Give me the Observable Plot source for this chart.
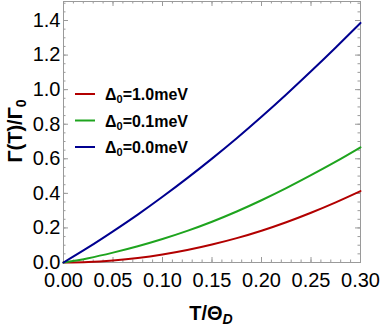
<!DOCTYPE html>
<html><head><meta charset="utf-8">
<script src="https://cdn.jsdelivr.net/npm/d3@7"></script>
<script src="https://cdn.jsdelivr.net/npm/@observablehq/plot@0.6"></script>
<style>
body{margin:0;background:#fff;}
#wrap{position:relative;width:382px;height:327px;font-family:"Liberation Sans",Arial,sans-serif;}
</style></head><body><div id="wrap"></div>
<script>
// Temperature grid T/Θ_D
const T = [0, 0.025, 0.05, 0.075, 0.1, 0.125, 0.15, 0.175, 0.2, 0.225, 0.25, 0.275, 0.3];
// Γ(T)/Γ0 for each gap value
const gap10 = [0, 0.003, 0.012, 0.026, 0.046, 0.072, 0.104, 0.141, 0.184, 0.233, 0.288, 0.348, 0.413];
const gap01 = [0, 0.025, 0.057, 0.094, 0.136, 0.183, 0.236, 0.295, 0.36, 0.43, 0.505, 0.583, 0.666];
const gap00 = [0, 0.087, 0.180, 0.277, 0.380, 0.488, 0.601, 0.719, 0.843, 0.972, 1.106, 1.244, 1.386];
const gapLabels = ["1.0", "0.1", "0.0"];
const seriesColors = ["#b20000", "#1ea41e", "#000090"];
const xTickLabels = [0, 0.05, 0.1, 0.15, 0.2, 0.25, 0.3];
const yTickLabels = [0, 0.2, 0.4, 0.6, 0.8, 1.0, 1.2, 1.4];
const xMinor = d3.range(0, 0.3001, 0.01);
const yMinor = d3.range(0, 1.5001, 0.05);

const series = [gap10, gap01, gap00];
const rows = [];
series.forEach((vals, i) => vals.forEach((v, j) => rows.push({T: T[j], v, s: gapLabels[i]})));

const W = 382, H = 327, mL = 63, mR = 22, mT = 1, mB = 65;
const innerH = H - mT - mB, innerW = W - mL - mR;
const frameColor = "#9a9a9a";
const font = '"Liberation Sans", Arial, sans-serif';

const plot = Plot.plot({
  width: W, height: H,
  marginLeft: mL, marginRight: mR, marginTop: mT, marginBottom: mB,
  style: {fontFamily: font, fontSize: "20px", color: "#000", background: "transparent"},
  x: {domain: [0, 0.3]},
  y: {domain: [0, 1.51]},
  color: {domain: gapLabels, range: seriesColors},
  marks: [
    Plot.axisX({ticks: xTickLabels, tickFormat: d3.format(".2f"), tickSize: 0, tickPadding: 10, label: null, fontSize: 20}),
    Plot.axisY({ticks: yTickLabels, tickFormat: d3.format(".1f"), tickSize: 0, tickPadding: 3, label: null, fontSize: 20}),
    // inward frame ticks: bottom/top
    Plot.ruleX(xTickLabels, {x: d => d, insetTop: innerH - 5, stroke: frameColor}),
    Plot.ruleX(xTickLabels, {x: d => d, insetBottom: innerH - 5, stroke: frameColor}),
    Plot.ruleX(xMinor, {x: d => d, insetTop: innerH - 2.5, stroke: frameColor}),
    Plot.ruleX(xMinor, {x: d => d, insetBottom: innerH - 2.5, stroke: frameColor}),
    // left/right
    Plot.ruleY(yTickLabels, {y: d => d, insetRight: innerW - 5, stroke: frameColor}),
    Plot.ruleY(yTickLabels, {y: d => d, insetLeft: innerW - 5, stroke: frameColor}),
    Plot.ruleY(yMinor, {y: d => d, insetRight: innerW - 2.5, stroke: frameColor}),
    Plot.ruleY(yMinor, {y: d => d, insetLeft: innerW - 2.5, stroke: frameColor}),
    Plot.frame({stroke: frameColor}),
    Plot.line(rows, {x: "T", y: "v", stroke: "s", z: "s", strokeWidth: 2, curve: "natural"})
  ]
});
document.getElementById("wrap").appendChild(plot);

const svg = d3.select(plot);
// x axis title
const xt = svg.append("text").attr("x", 211).attr("y", 320).attr("text-anchor", "middle")
  .attr("font-family", font).attr("font-weight", "bold").attr("font-size", 20).attr("fill", "#000");
xt.append("tspan").text("T/Θ");
xt.append("tspan").text("D").attr("font-style", "italic").attr("font-size", 14).attr("dy", 4);
// y axis title
const yt = svg.append("text").attr("transform", "translate(22,131) rotate(-90)").attr("text-anchor", "middle")
  .attr("font-family", font).attr("font-weight", "bold").attr("font-size", 20).attr("fill", "#000");
yt.append("tspan").text("Γ(T)/Γ");
yt.append("tspan").text("0").attr("font-size", 14).attr("dy", 4);

// legend
const lg = svg.append("g").attr("text-anchor", "start");
gapLabels.forEach((g, i) => {
  const y = 94 + i * 26.5;
  lg.append("line").attr("x1", 75).attr("x2", 95).attr("y1", y).attr("y2", y)
    .attr("stroke", seriesColors[i]).attr("stroke-width", 2);
  const t = lg.append("text").attr("x", 105).attr("y", y + 6).attr("text-anchor", "start")
    .attr("font-family", font).attr("font-weight", "bold").attr("font-size", 16).attr("fill", "#000");
  t.append("tspan").text("Δ");
  t.append("tspan").text("0").attr("font-size", 11).attr("dy", 3);
  t.append("tspan").text("=" + g + "meV").attr("dy", -3);
});
</script></body></html>
